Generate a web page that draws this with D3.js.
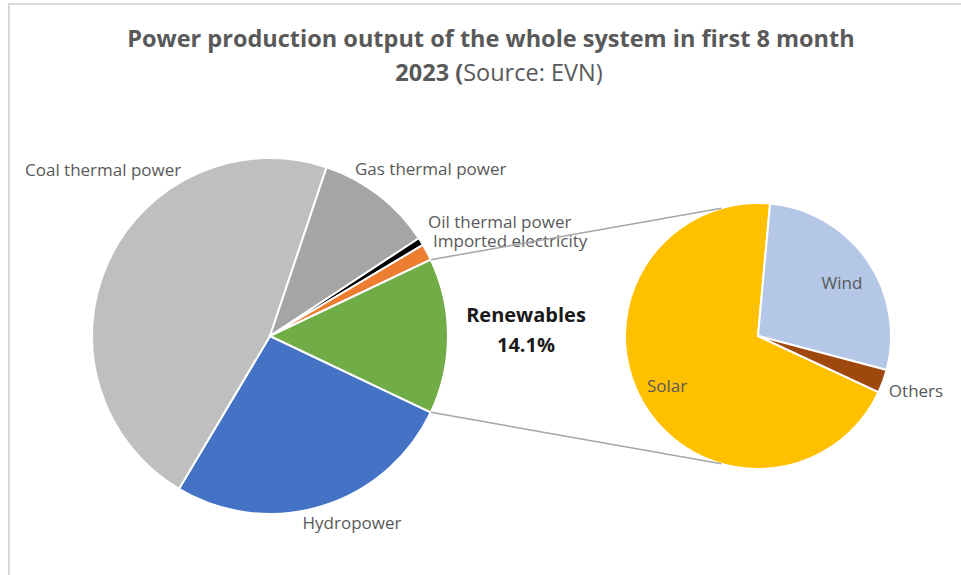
<html lang="en">
<head>
<meta charset="utf-8">
<script src="https://d3js.org/d3.v7.min.js"></script>
<style>
  body { margin: 0; background: #fff; }
  svg text { font-family: "Open Sans", sans-serif; }
  .lbl { font-size: 17px; fill: #595959; }
</style>
</head>
<body>
<script>
// data (shares of total output, %)
var mainCategories = ["Hydropower", "Coal thermal power", "Gas thermal power", "Oil thermal power", "Imported electricity", "Renewables"];
var mainShares = [26.5, 46.6, 10.6, 0.7, 1.5, 14.1];
var subCategories = ["Solar", "Wind", "Others"];
var subShares = [9.8, 3.9, 0.4];

var width = 961, height = 575;

var colors = {
  "Hydropower": "#4472c4",
  "Coal thermal power": "#bfbfbf",
  "Gas thermal power": "#a5a5a5",
  "Oil thermal power": "#000000",
  "Imported electricity": "#ed7d31",
  "Renewables": "#70ad47",
  "Solar": "#ffc000",
  "Wind": "#b4c7e7",
  "Others": "#9e480e"
};

var svg = d3.select("body").append("svg")
  .attr("width", width)
  .attr("height", height);

// chart frame (only top and left edges visible)
svg.append("path")
  .attr("d", "M9,575V4H961")
  .attr("fill", "none")
  .attr("stroke", "#d9d9d9")
  .attr("stroke-width", 2);

// title
var title = svg.append("text")
  .attr("text-anchor", "middle")
  .attr("fill", "#595959")
  .style("font-size", "23.5px");
title.append("tspan").attr("x", 491).attr("y", 47)
  .style("font-weight", "bold")
  .text("Power production output of the whole system in first 8 month");
var t2 = title.append("tspan").attr("x", 499).attr("y", 81);
t2.append("tspan").style("font-weight", "bold").text("2023 (");
t2.append("tspan").text("Source: EVN)");

// main pie
var cx = 270, cy = 336, R = 178;
var total = d3.sum(mainShares);
var renAngle = mainShares[5] / total * 2 * Math.PI;
var start = Math.PI / 2 + renAngle / 2;

var mainData = mainCategories.map(function(c, i) { return {name: c, value: mainShares[i]}; });
var pie = d3.pie().sort(null).value(function(d) { return d.value; })
  .startAngle(start).endAngle(start + 2 * Math.PI);
var arc = d3.arc().innerRadius(0).outerRadius(R);
var mainArcs = pie(mainData);

svg.append("g").attr("transform", "translate(" + cx + "," + cy + ")")
  .selectAll("path")
  .data(mainArcs)
  .enter().append("path")
  .attr("d", arc)
  .attr("fill", function(d) { return colors[d.data.name]; })
  .attr("stroke", "#fff")
  .attr("stroke-width", 2);

// secondary pie
var sx = 758, sy = 336, r2 = 133;
var subStart = 115 * Math.PI / 180;
var subData = subCategories.map(function(c, i) { return {name: c, value: subShares[i]}; });
var pie2 = d3.pie().sort(null).value(function(d) { return d.value; })
  .startAngle(subStart).endAngle(subStart + 2 * Math.PI);
var arc2 = d3.arc().innerRadius(0).outerRadius(r2);

svg.append("g").attr("transform", "translate(" + sx + "," + sy + ")")
  .selectAll("path")
  .data(pie2(subData))
  .enter().append("path")
  .attr("d", arc2)
  .attr("fill", function(d) { return colors[d.data.name]; })
  .attr("stroke", "#fff")
  .attr("stroke-width", 2);

// labels (positions set by hand like excel's best fit)
var labelPos = {
  "Coal thermal power": [25, 176, "start"],
  "Gas thermal power": [355, 175, "start"],
  "Oil thermal power": [428, 228, "start"],
  "Imported electricity": [433, 247, "start"],
  "Hydropower": [352, 529, "middle"],
  "Solar": [667, 392, "middle"],
  "Wind": [842, 289, "middle"],
  "Others": [916, 397, "middle"]
};
var labelNames = mainCategories.slice(0, 5).concat(subCategories);
svg.append("g").selectAll("text")
  .data(labelNames)
  .enter().append("text")
  .attr("class", "lbl")
  .attr("x", function(d) { return labelPos[d][0]; })
  .attr("y", function(d) { return labelPos[d][1]; })
  .attr("text-anchor", function(d) { return labelPos[d][2]; })
  .text(function(d) { return d; });

var ren = svg.append("text")
  .attr("text-anchor", "middle")
  .attr("fill", "#1a1a1a")
  .style("font-size", "20px")
  .style("font-weight", "bold");
ren.append("tspan").attr("x", 526).attr("y", 322).text("Renewables");
ren.append("tspan").attr("x", 526).attr("y", 352)
  .text(d3.format(".1f")(mainShares[5]) + "%");

// connector lines from the renewables slice to the secondary pie
var renArc = mainArcs[5];
function pt(x, y, r, a) { return [x + r * Math.sin(a), y - r * Math.cos(a)]; }
var off = 16 * Math.PI / 180;
var lines = [
  [pt(cx, cy, R, renArc.startAngle), pt(sx, sy, r2, -off)],
  [pt(cx, cy, R, renArc.endAngle), pt(sx, sy, r2, Math.PI + off)]
];
svg.append("g").selectAll("line")
  .data(lines)
  .enter().append("line")
  .attr("x1", function(d) { return d[0][0]; })
  .attr("y1", function(d) { return d[0][1]; })
  .attr("x2", function(d) { return d[1][0]; })
  .attr("y2", function(d) { return d[1][1]; })
  .attr("stroke", "#a6a6a6")
  .attr("stroke-width", 1.5);
</script>
</body>
</html>
